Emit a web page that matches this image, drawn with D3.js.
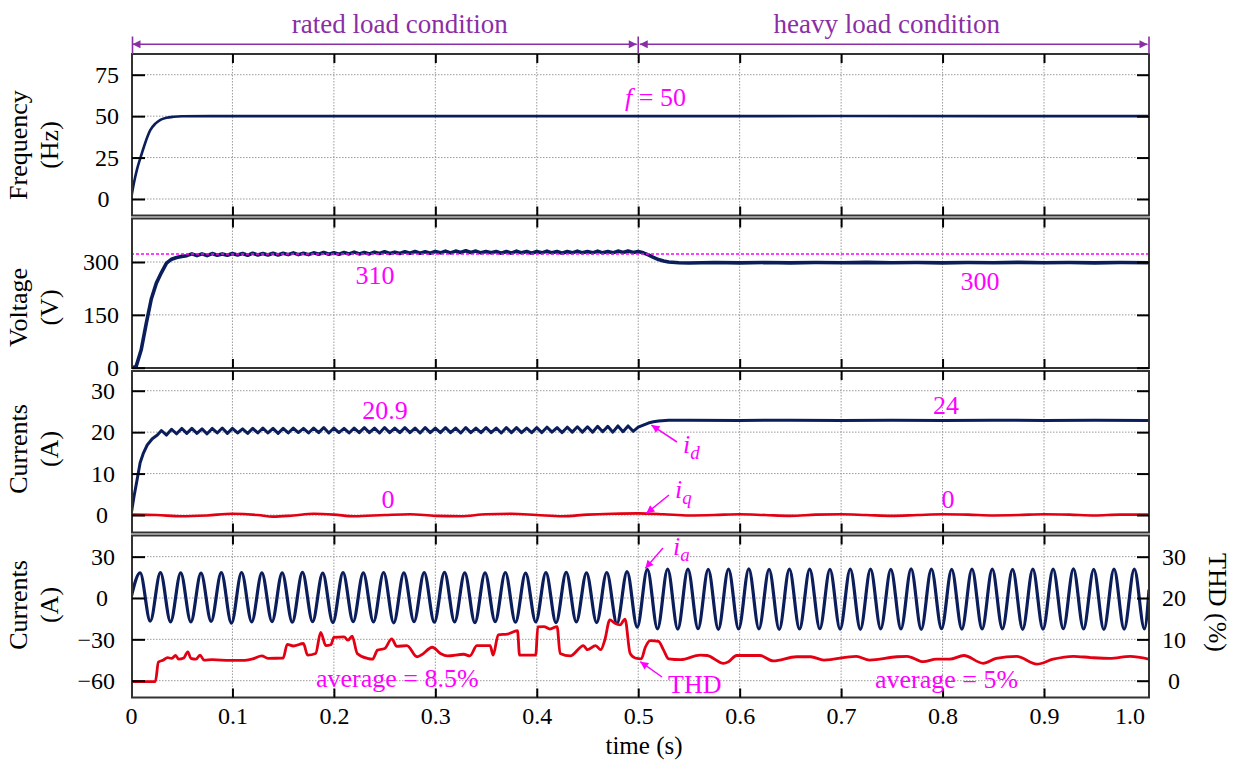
<!DOCTYPE html>
<html>
<head>
<meta charset="utf-8">
<script src="https://cdn.jsdelivr.net/npm/d3@7"></script>
<style>
  body { margin: 0; background: #fff; }
  svg text { font-family: "Liberation Serif", "Times New Roman", Times, "DejaVu Serif", serif; }
</style>
</head>
<body>
<svg id="chart" width="1235" height="760"></svg>
<script>
// ---- data ----
var xTicks = [0, 0.1, 0.2, 0.3, 0.4, 0.5, 0.6, 0.7, 0.8, 0.9, 1.0];
var xTickLabels = ["0", "0.1", "0.2", "0.3", "0.4", "0.5", "0.6", "0.7", "0.8", "0.9", "1.0"];
var freqTicks = [0, 25, 50, 75];
var voltTicks = [0, 150, 300];
var dqTicks = [0, 10, 20, 30];
var iaTicks = [-60, -30, 0, 30];
var thdTicks = [0, 10, 20, 30];

var spans = [
  { label: "rated load condition", from: 0, to: 0.5, textAt: 0.265 },
  { label: "heavy load condition", from: 0.5, to: 1.0035, textAt: 0.745 },
];

// frequency (Hz)
var freqPts = [[0, 0], [0.003, 10], [0.006, 18], [0.0094, 25], [0.013, 32], [0.019, 41.5],
  [0.024, 45.5], [0.029, 47.8], [0.035, 49], [0.042, 49.6], [0.05, 49.9], [0.1, 50],
  [0.5, 50], [0.7, 50.05], [1.0035, 50]];

// dc voltage (V)
var voltRise = [[0, 0], [0.005, 3], [0.01, 50], [0.015, 125], [0.02, 195], [0.025, 240],
  [0.03, 270], [0.035, 297], [0.04, 308], [0.045, 313], [0.05, 316], [0.055, 318]];
var voltRippleStart = 0.06, sampleStep = 0.005;
var voltRipple = [323, 318, 323, 318, 324, 319, 323, 319, 324, 320, 324, 319, 325, 320, 324, 320,
  325, 320, 325, 321, 326, 321, 325, 321, 326, 322, 327, 322, 326, 322, 327, 323, 328, 323, 327,
  323, 328, 324, 329, 324, 328, 324, 329, 325, 330, 325, 329, 325, 330, 326, 331, 326, 331, 327,
  332, 327, 331, 326, 330, 326, 330, 325, 330, 325, 331, 326, 330, 325, 330, 326, 331, 326, 330,
  325, 330, 326, 331, 326, 330, 326, 331, 326, 330, 326, 331, 327, 331, 327, 330];
var voltHeavy = [[0.505, 326], [0.51, 320], [0.515, 313], [0.52, 307], [0.525, 303], [0.53, 300],
  [0.54, 298], [0.55, 297], [0.575, 298.5], [0.6, 297.5], [0.625, 298.5], [0.65, 297.5],
  [0.675, 298.5], [0.7, 298], [0.725, 299], [0.75, 298], [0.775, 298.5], [0.8, 297.5],
  [0.825, 298.5], [0.85, 298], [0.875, 299], [0.9, 298], [0.925, 298.5], [0.95, 297.5],
  [0.975, 298.5], [1.0035, 298]];
var voltRef = 322.7;

// id, iq (A)
var idRise = [[0, 0], [0.003, 4.5], [0.006, 8.5], [0.009, 12.6], [0.012, 14.8], [0.016, 16.9],
  [0.021, 18.4], [0.026, 19.3]];
var idRippleStart = 0.03;
var idRipple = [20.4, 19.3, 20.7, 19.6, 20.9, 19.7, 20.9, 19.7, 20.8, 19.6, 20.9, 19.8, 21.0, 19.7,
  20.9, 19.8, 20.8, 19.7, 20.9, 19.8, 21.0, 19.8, 20.9, 19.7, 20.9, 19.8, 21.0, 19.9, 20.9, 19.8,
  21.0, 19.9, 21.1, 19.8, 21.0, 19.9, 20.9, 19.8, 21.0, 19.9, 21.1, 19.9, 21.0, 19.8, 21.1, 19.9,
  21.0, 19.9, 21.1, 19.9, 21.0, 19.8, 21.1, 19.9, 21.0, 19.9, 21.1, 19.9, 21.0, 19.8, 21.1, 19.9,
  21.0, 19.9, 21.1, 19.9, 21.0, 19.8, 21.1, 19.9, 21.1, 19.9, 21.0, 19.9, 21.1, 19.9, 21.2, 20.0,
  21.1, 19.9, 21.2, 20.0, 21.3, 20.0, 21.3, 20.0, 21.4, 20.1, 21.4, 20.0, 21.5, 20.1, 21.5, 20.2,
  21.2];
var idHeavy = [[0.505, 21.7], [0.51, 22.2], [0.515, 22.5], [0.52, 22.7], [0.53, 22.85],
  [0.55, 22.9], [0.6, 22.8], [0.65, 22.9], [0.7, 22.8], [0.75, 22.9], [0.8, 22.8], [0.85, 22.9],
  [0.9, 22.8], [0.95, 22.85], [1.0035, 22.8]];
var iqPts = [[0, 0.1], [0.025, 0.0], [0.05, -0.3], [0.075, -0.1], [0.1, 0.3], [0.125, 0.0],
  [0.14, -0.4], [0.16, -0.1], [0.18, 0.3], [0.2, 0.1], [0.22, -0.3], [0.25, 0.0], [0.275, 0.2],
  [0.3, -0.2], [0.325, -0.3], [0.35, 0.2], [0.375, 0.3], [0.4, 0.0], [0.425, -0.3], [0.45, 0.1],
  [0.475, 0.3], [0.5, 0.4], [0.525, 0.2], [0.55, -0.1], [0.575, 0.0], [0.6, 0.2], [0.625, 0.0],
  [0.65, -0.2], [0.675, 0.1], [0.7, 0.2], [0.725, 0.0], [0.75, -0.2], [0.775, 0.0], [0.8, 0.2],
  [0.825, 0.1], [0.85, -0.1], [0.875, 0.0], [0.9, 0.2], [0.925, 0.1], [0.95, -0.1], [0.975, 0.1],
  [1.0035, 0.1]];

// phase current ia (A): one peak and one trough per 20 ms cycle
var iaCycle = 0.02, iaPeakAt = 0.009, iaTroughAt = 0.019;
var iaPeaks = [18.2, 18.4, 18.3, 18.0, 18.4, 18.5, 18.2, 18.3, 18.6, 18.1, 18.4, 18.3, 18.5, 18.2,
  18.4, 18.6, 18.2, 18.3, 18.5, 18.1, 18.4, 18.6, 18.3, 18.5, 19.1,
  20.8, 21.0, 20.9, 20.7, 20.9, 21.1, 20.8, 20.9, 21.0, 20.7, 20.9, 21.0, 20.8, 21.1, 20.9,
  20.8, 21.0, 20.9, 20.7, 21.0, 20.9, 21.1, 20.8, 20.9, 20.9];
var iaTroughs = [-16.8, -17.3, -17.4, -17.0, -18.3, -17.3, -17.1, -17.6, -17.2, -17.8, -17.1,
  -17.4, -18.0, -17.2, -17.5, -17.3, -17.9, -17.1, -17.6, -17.4, -17.9, -17.3, -17.8, -18.6, -21.2,
  -22.4, -22.6, -22.3, -22.7, -22.5, -22.4, -22.8, -22.5, -22.3, -22.6, -22.7, -22.4, -22.5,
  -22.8, -22.3, -22.6, -22.5, -22.4, -22.7, -22.6, -22.3, -22.5, -22.8, -22.6, -22.4];
var iaEnd = [1.0035, 6];

// current THD (%)
var thdPts = [[0, -0.2], [0.024, -0.2], [0.027, 4.5], [0.032, 5.0], [0.036, 5.6], [0.040, 5.4],
  [0.044, 6.1], [0.047, 5.2], [0.052, 5.5], [0.056, 7.0], [0.059, 5.4], [0.064, 5.2],
  [0.068, 6.2], [0.072, 5.0], [0.080, 5.1], [0.098, 4.9], [0.110, 4.9], [0.120, 5.3],
  [0.129, 6.0], [0.135, 5.4], [0.150, 5.5], [0.154, 8.8], [0.160, 8.4], [0.170, 9.0],
  [0.174, 6.2], [0.182, 6.6], [0.187, 11.7], [0.192, 8.5], [0.197, 8.7], [0.200, 10.5],
  [0.210, 10.6], [0.214, 9.8], [0.218, 10.8], [0.223, 6.6], [0.233, 5.4], [0.238, 5.2],
  [0.243, 7.4], [0.250, 7.8], [0.257, 10.1], [0.262, 8.3], [0.272, 8.5], [0.282, 5.8],
  [0.286, 6.2], [0.297, 8.1], [0.305, 6.6], [0.312, 6.0], [0.328, 6.4], [0.334, 6.0],
  [0.341, 8.5], [0.354, 8.5], [0.357, 6.2], [0.362, 11.1], [0.371, 11.3], [0.381, 12.1],
  [0.383, 6.2], [0.399, 6.2], [0.401, 13.0], [0.407, 13.1], [0.413, 12.5], [0.420, 13.1],
  [0.423, 6.6], [0.433, 6.0], [0.446, 8.5], [0.450, 7.5], [0.458, 8.5], [0.463, 7.5],
  [0.467, 9.8], [0.472, 14.7], [0.477, 13.9], [0.482, 13.5], [0.487, 14.9], [0.492, 6.6],
  [0.497, 5.5], [0.503, 5.3], [0.507, 8.1], [0.512, 9.7], [0.520, 9.5], [0.525, 7.4],
  [0.530, 5.3], [0.542, 5.1], [0.561, 6.2], [0.568, 6.1], [0.584, 4.2], [0.589, 4.6],
  [0.597, 6.1], [0.620, 6.1], [0.633, 4.8], [0.656, 5.8], [0.670, 5.8], [0.683, 5.0],
  [0.715, 5.9], [0.728, 5.0], [0.755, 5.8], [0.765, 5.9], [0.781, 4.6], [0.794, 5.2],
  [0.807, 5.2], [0.821, 6.1], [0.840, 4.2], [0.853, 5.4], [0.873, 5.9], [0.893, 4.0],
  [0.909, 5.2], [0.929, 5.9], [0.946, 5.6], [0.965, 5.4], [0.985, 5.9], [1.0035, 5.2]];

// ---- build point lists ----
var voltPts = voltRise
  .concat(voltRipple.map((v, i) => [voltRippleStart + i * sampleStep, v]))
  .concat(voltHeavy);
var idPts = idRise
  .concat(idRipple.map((v, i) => [idRippleStart + i * sampleStep, v]))
  .concat(idHeavy);
var iaPts = [[0, 0]];
iaPeaks.forEach(function (p, k) {
  iaPts.push([iaPeakAt + k * iaCycle, p]);
  iaPts.push([iaTroughAt + k * iaCycle, iaTroughs[k]]);
});
iaPts.push(iaEnd);

// ---- drawing ----
var serif = '"Liberation Serif", "Times New Roman", Times, "DejaVu Serif", serif';
var navy = "#0b1e5b", red = "#e30012", magenta = "#ff00ff", purple = "#8a2ea6";
var svg = d3.select("#chart").attr("font-family", serif);
var left = 132, right = 1149;
var x = d3.scaleLinear().domain([0, 1.0035]).range([131, 1149]);

var panels = [
  { top: 54, bottom: 215.5, domain: [-9.96, 87.5], ticks: freqTicks, pad: 13, zeroPad: 22.5,
    title: ["Frequency", "(Hz)"], titleY: 145 },
  { top: 218.5, bottom: 368, domain: [-0.85, 423.5], ticks: voltTicks, pad: 13, zeroPad: 13,
    title: ["Voltage", "(V)"], titleY: 307.5 },
  { top: 371, bottom: 532.5, domain: [-4.22, 34.76], ticks: dqTicks, pad: 17, zeroPad: 24,
    title: ["Currents", "(A)"], titleY: 449 },
  { top: 535.5, bottom: 697.5, domain: [-72.2, 45.35], ticks: iaTicks, pad: 17, zeroPad: 24,
    title: ["Currents", "(A)"], titleY: 605 },
];
panels.forEach(function (p, i) {
  p.y = d3.scaleLinear().domain(p.domain).range([p.bottom, p.top]);
  svg.append("clipPath").attr("id", "clip" + i)
    .append("rect").attr("x", left).attr("y", p.top)
    .attr("width", right - left).attr("height", p.bottom - p.top);
});
var thdY = d3.scaleLinear().domain([-4.06, 35.13]).range([697.5, 535.5]);

var defs = svg.append("defs");
defs.append("marker").attr("id", "arrM").attr("viewBox", "0 0 10 10")
  .attr("refX", 10).attr("refY", 5).attr("markerUnits", "userSpaceOnUse")
  .attr("markerWidth", 11).attr("markerHeight", 8).attr("orient", "auto")
  .append("path").attr("d", "M0,0L10,5L0,10Z").attr("fill", magenta);
defs.append("marker").attr("id", "arrP").attr("viewBox", "0 0 10 10")
  .attr("refX", 10).attr("refY", 5).attr("markerUnits", "userSpaceOnUse")
  .attr("markerWidth", 14).attr("markerHeight", 8).attr("orient", "auto-start-reverse")
  .append("path").attr("d", "M0,0L10,5L0,10Z").attr("fill", purple);

// grid
panels.forEach(function (p) {
  var g = svg.append("g").attr("stroke", "#9a9a9a").attr("stroke-width", 1)
    .attr("stroke-dasharray", "1.5,1.5");
  g.selectAll(".vg").data(xTicks.slice(1, 10)).enter().append("line")
    .attr("x1", (d) => x(d)).attr("x2", (d) => x(d))
    .attr("y1", p.top).attr("y2", p.bottom);
  g.selectAll(".hg").data(p.ticks).enter().append("line")
    .attr("x1", left).attr("x2", right)
    .attr("y1", (d) => p.y(d)).attr("y2", (d) => p.y(d));
});

function lineFor(yScale, curve) {
  return d3.line().x((d) => x(d[0])).y((d) => yScale(d[1])).curve(curve || d3.curveLinear);
}

// series
var p1 = panels[0], p2 = panels[1], p3 = panels[2], p4 = panels[3];
svg.append("path").datum(freqPts).attr("clip-path", "url(#clip0)")
  .attr("d", lineFor(p1.y, d3.curveMonotoneX))
  .attr("fill", "none").attr("stroke", navy).attr("stroke-width", 2.6);

svg.append("path").datum(voltPts).attr("clip-path", "url(#clip1)")
  .attr("d", lineFor(p2.y))
  .attr("fill", "none").attr("stroke", navy).attr("stroke-width", 3.6)
  .attr("stroke-linejoin", "round");
svg.append("line").attr("x1", x(0)).attr("x2", x(1.0035))
  .attr("y1", p2.y(voltRef)).attr("y2", p2.y(voltRef))
  .attr("stroke", magenta).attr("stroke-width", 1.5).attr("stroke-dasharray", "3,2");

svg.append("path").datum(iqPts).attr("clip-path", "url(#clip2)")
  .attr("d", lineFor(p3.y, d3.curveMonotoneX))
  .attr("fill", "none").attr("stroke", red).attr("stroke-width", 2.6);
svg.append("path").datum(idPts).attr("clip-path", "url(#clip2)")
  .attr("d", lineFor(p3.y))
  .attr("fill", "none").attr("stroke", navy).attr("stroke-width", 3)
  .attr("stroke-linejoin", "round");

svg.append("path").datum(iaPts).attr("clip-path", "url(#clip3)")
  .attr("d", lineFor(p4.y, d3.curveMonotoneX))
  .attr("fill", "none").attr("stroke", navy).attr("stroke-width", 3.2);
svg.append("path").datum(thdPts).attr("clip-path", "url(#clip3)")
  .attr("d", lineFor(thdY, d3.curveMonotoneX))
  .attr("fill", "none").attr("stroke", red).attr("stroke-width", 2.8)
  .attr("stroke-linejoin", "round");

// frames and axes
function styleAxis(g) {
  g.select(".domain").remove();
  g.attr("font-family", serif).attr("font-size", 24);
  g.selectAll(".tick line").attr("stroke", "#000").attr("stroke-width", 2);
  g.selectAll(".tick text").attr("fill", "#000");
}
function fmtTick(d) { return d < 0 ? "\u2212" + Math.abs(d) : String(d); }

panels.forEach(function (p, i) {
  svg.append("rect").attr("x", left).attr("y", p.top)
    .attr("width", right - left).attr("height", p.bottom - p.top)
    .attr("fill", "none").attr("stroke", "#333").attr("stroke-width", 2);

  var gl = svg.append("g").attr("transform", "translate(" + left + ",0)")
    .call(d3.axisLeft(p.y).tickValues(p.ticks).tickFormat(fmtTick)
      .tickSizeInner(-13).tickSizeOuter(0).tickPadding(p.pad))
    .call(styleAxis);
  gl.selectAll(".tick").filter((d) => d === 0).select("text").attr("x", -p.zeroPad);

  svg.append("g").attr("transform", "translate(" + right + ",0)")
    .call(d3.axisRight(i === 3 ? thdY : p.y).tickValues(i === 3 ? thdTicks : p.ticks)
      .tickSizeInner(-12).tickSizeOuter(0).tickPadding(25).tickFormat(i === 3 ? null : ""))
    .call(styleAxis)
    .selectAll(".tick text").attr("text-anchor", "middle");

  svg.append("g").attr("transform", "translate(0," + p.top + ")")
    .call(d3.axisTop(x).tickValues(xTicks.slice(1, 10)).tickSizeInner(-9).tickSizeOuter(0).tickFormat(""))
    .call(styleAxis);
  var gb = svg.append("g").attr("transform", "translate(0," + p.bottom + ")")
    .call(d3.axisBottom(x).tickValues(i === 3 ? xTicks : xTicks.slice(1, 10))
      .tickSizeInner(-9).tickSizeOuter(0).tickPadding(9.5)
      .tickFormat(i === 3 ? (d, k) => xTickLabels[k] : ""))
    .call(styleAxis);
  gb.selectAll(".tick").filter((d) => d === 0).select("line").remove();
  gb.selectAll(".tick").filter((d) => d === 1.0).select("line").remove();
  if (i === 3) {
    gb.selectAll(".tick").filter((d) => d === 1.0).select("text")
      .attr("text-anchor", "end").attr("x", -1);
  }

  // left titles, two lines
  p.title.forEach(function (t, k) {
    svg.append("text")
      .attr("transform", "translate(" + (k === 0 ? 27 : 58) + "," + p.titleY + ") rotate(-90)")
      .attr("text-anchor", "middle").attr("font-size", 26).attr("fill", "#000").text(t);
  });
});

svg.append("text").attr("transform", "translate(1208.5,602.5) rotate(90)")
  .attr("text-anchor", "middle").attr("font-size", 26).text("THD (%)");
svg.append("text").attr("x", 644).attr("y", 754).attr("text-anchor", "middle")
  .attr("font-size", 25).text("time (s)");

// load condition spans
spans.forEach(function (s) {
  svg.append("line").attr("x1", x(s.from) + 1.5).attr("x2", x(s.to) - 1.5)
    .attr("y1", 44.3).attr("y2", 44.3)
    .attr("stroke", purple).attr("stroke-width", 1.6)
    .attr("marker-start", "url(#arrP)").attr("marker-end", "url(#arrP)");
  svg.append("text").attr("x", x(s.textAt)).attr("y", 32.5).attr("text-anchor", "middle")
    .attr("font-size", 27).attr("fill", purple).text(s.label);
});
[0, 0.5, 1.0035].forEach(function (b) {
  svg.append("line").attr("x1", Math.max(x(b), left + 0.5)).attr("x2", Math.max(x(b), left + 0.5))
    .attr("y1", 36.5).attr("y2", 54)
    .attr("stroke", purple).attr("stroke-width", 1.6);
});

// annotations
function note(px, py, parts, anchor) {
  var t = svg.append("text").attr("x", px).attr("y", py).attr("font-size", 26)
    .attr("fill", magenta).attr("text-anchor", anchor || "start");
  parts.forEach(function (q) {
    var ts = t.append("tspan").text(q.s);
    if (q.it) ts.attr("font-style", "italic");
    if (q.sub) ts.attr("font-size", 19).attr("dy", 6);
  });
  return t;
}
function pointer(fromX, fromY, tipX, tipY) {
  svg.append("line").attr("x1", fromX).attr("y1", fromY).attr("x2", tipX).attr("y2", tipY)
    .attr("stroke", magenta).attr("stroke-width", 1.5).attr("marker-end", "url(#arrM)");
}

note(625, 106, [{ s: "f", it: true }, { s: " = 50" }]);
note(375, 284, [{ s: "310" }], "middle");
note(980, 290, [{ s: "300" }], "middle");
note(385, 419, [{ s: "20.9" }], "middle");
note(946, 414, [{ s: "24" }], "middle");
note(388, 508, [{ s: "0" }], "middle");
note(948, 508, [{ s: "0" }], "middle");
note(316, 687, [{ s: "average = 8.5%" }]);
note(875, 688, [{ s: "average = 5%" }]);

note(683, 453, [{ s: "i", it: true }, { s: "d", it: true, sub: true }]);
pointer(677, 442, x(0.513), p3.y(21.7));
note(675, 498, [{ s: "i", it: true }, { s: "q", it: true, sub: true }]);
pointer(669, 495, x(0.508), p3.y(0.4));
note(673, 555, [{ s: "i", it: true }, { s: "a", it: true, sub: true }]);
pointer(663, 548, x(0.507), p4.y(21.5));
note(668, 693, [{ s: "THD" }]);
pointer(662, 677, x(0.502), thdY(4.6));
</script>
</body>
</html>
